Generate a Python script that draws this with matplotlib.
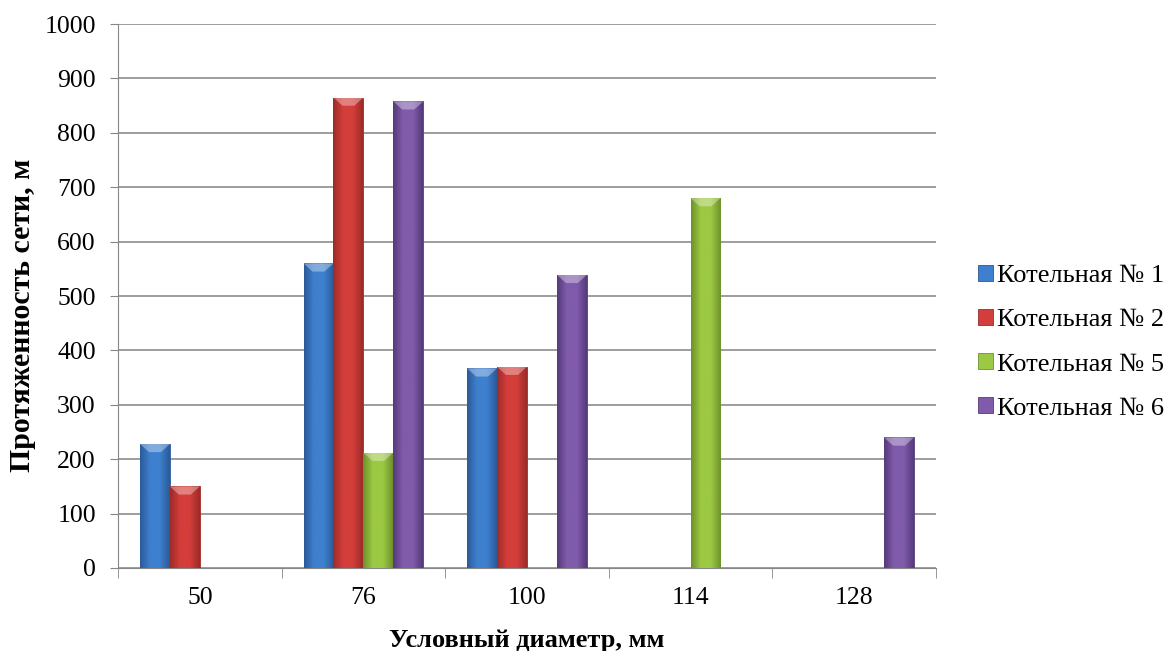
import numpy as np
import matplotlib.pyplot as plt
from matplotlib.colors import LinearSegmentedColormap

diameters = ['50', '76', '100', '114', '128']
series_names = ['Котельная № 1', 'Котельная № 2', 'Котельная № 5', 'Котельная № 6']
kot1 = [228, 560, 367, 0, 0]
kot2 = [150, 865, 370, 0, 0]
kot5 = [0, 212, 0, 680, 0]
kot6 = [0, 858, 539, 0, 240]

# center colour / edge colour for the "bevel" look
colors = ['#3E80CE', '#D33E3A', '#9CC943', '#805BAB']
edges = ['#2B5A98', '#9C2B29', '#6E922B', '#563A7C']

plt.rcParams['font.family'] = ['Liberation Serif', 'DejaVu Serif']

fig = plt.figure(figsize=(11.7, 6.51), dpi=100)
ax = fig.add_axes([0.1009, 0.1275, 0.699, 0.8355])

x = np.arange(len(diameters))
w = 0.183
grad = np.linspace(0, 1, 64).reshape(1, -1)
all_vals = [kot1, kot2, kot5, kot6]
for i, vals in enumerate(all_vals):
    cmap = LinearSegmentedColormap.from_list('c%d' % i, [edges[i], colors[i], colors[i], edges[i]])
    bars = ax.bar(x + (i - 1.5) * w, vals, width=w, color=colors[i], edgecolor=edges[i],
                  linewidth=0.6, label=series_names[i], zorder=3)
    for b, v in zip(bars, vals):
        if v <= 0:
            continue
        x0 = b.get_x()
        x1 = x0 + b.get_width()
        im = ax.imshow(grad, extent=[x0, x1, 0, v], aspect='auto', cmap=cmap, zorder=3.5)
        im.set_clip_path(b)
        # lighter bevel at the top
        ax.fill([x0, x1, x1 - w * 0.3, x0 + w * 0.3], [v, v, v - 15, v - 15],
                color='white', alpha=0.35, lw=0, zorder=4)

ax.set_xlim(-0.5, 4.5)
ax.set_ylim(0, 1000)
ax.set_yticks(range(0, 1001, 100))
ax.set_xticks(x)
ax.set_xticklabels(diameters)
ax.set_xticks(np.arange(-0.5, 4.6, 1), minor=True)
ax.tick_params(axis='x', which='major', length=0, labelsize=18.5, pad=14)
ax.tick_params(axis='x', which='minor', length=7, color='#868686', direction='out')
ax.tick_params(axis='y', length=6, color='#868686', labelsize=18.5, pad=10)

ax.grid(axis='y', color='#8C8C8C', linewidth=1.2, zorder=0)
ax.set_axisbelow(True)
for s in ['top', 'right']:
    ax.spines[s].set_visible(False)
ax.spines['left'].set_color('#868686')
ax.spines['bottom'].set_color('#868686')

ax.set_xlabel('Условный диаметр, мм', fontsize=19, fontweight='bold')
ax.xaxis.set_label_coords(0.5, -0.112)
ax.set_ylabel('Протяженность сети, м', fontsize=21.5, fontweight='bold')
ax.yaxis.set_label_coords(-0.117, 0.465)
ax.yaxis.label.set_verticalalignment('center')

ax.legend(loc='center left', bbox_to_anchor=(1.039, 0.415), frameon=False, fontsize=19,
          handlelength=0.55, handleheight=0.55, handletextpad=0.15, labelspacing=0.83,
          borderaxespad=0.0)

fig.savefig('out.png', dpi=100)
